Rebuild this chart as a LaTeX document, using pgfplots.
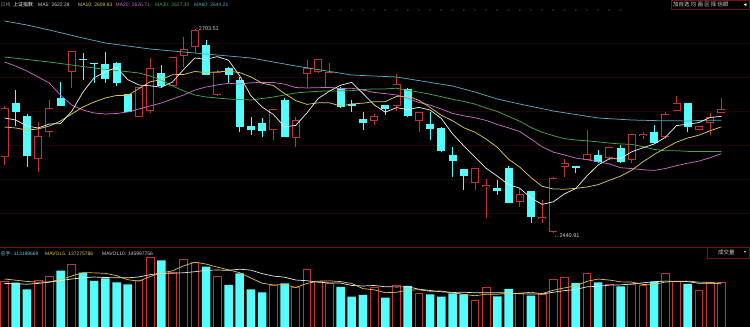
\documentclass[border=0pt]{standalone}
\usepackage{pgfplots}
\pgfplotsset{compat=1.18}
\usepackage{pgfplotstable}
\usepackage{fontspec}
\setmainfont{Liberation Sans}
\newfontfamily\cjk{Noto Sans CJK SC}
\definecolor{cy}{HTML}{54FCFC}
\definecolor{rd}{HTML}{C03434}
\definecolor{maw}{HTML}{E6E6E6}
\definecolor{may}{HTML}{D8C45A}
\definecolor{mam}{HTML}{C868C8}
\definecolor{mag}{HTML}{44A844}
\definecolor{mat}{HTML}{56A6BE}
\definecolor{gridc}{HTML}{240606}
\definecolor{sepc}{HTML}{6A1414}
\definecolor{dotc}{HTML}{9ADCCC}
\definecolor{volc}{HTML}{6CC0E4}
\definecolor{lblc}{HTML}{D0D0D0}

\pgfplotstableread{
x o h l c
0 2538.73 2604.39 2528.44 2601.81
3 2536.16 2583.79 2519.42 2565.77
4 2570.91 2612.11 2564.48 2601.81
6 2648.15 2675.19 2627.56 2675.19
12 2590.22 2628.85 2590.22 2628.85
13 2597.95 2666.17 2595.38 2653.30
15 2630.13 2667.46 2630.13 2667.46
16 2668.75 2693.21 2654.59 2677.76
17 2680.34 2703.51 2672.61 2702.22
19 2618.55 2650.73 2617.26 2648.15
24 2573.49 2600.52 2560.62 2600.52
26 2563.19 2590.22 2551.61 2586.36
27 2645.58 2663.60 2627.56 2653.30
28 2648.15 2664.89 2646.87 2664.89
29 2627.56 2659.74 2627.56 2648.15
33 2585.07 2594.09 2579.93 2591.51
35 2604.39 2645.58 2597.95 2632.71
37 2585.07 2596.66 2570.91 2596.66
42 2505.27 2524.57 2496.26 2524.57
43 2500.12 2510.41 2460.21 2502.69
46 2480.81 2498.83 2474.37 2491.11
48 2458.93 2483.38 2453.78 2461.50
49 2442.19 2512.99 2440.91 2511.70
50 2525.86 2536.16 2512.99 2531.01
52 2534.87 2573.49 2534.87 2542.60
54 2537.45 2551.61 2534.87 2551.61
56 2534.87 2568.34 2531.01 2568.34
57 2565.77 2570.91 2561.89 2568.34
59 2564.48 2596.66 2563.19 2594.09
60 2597.95 2617.26 2597.95 2608.25
62 2573.49 2578.64 2573.49 2578.64
63 2582.50 2595.38 2567.05 2590.22
64 2595.38 2614.69 2595.38 2600.52
}\redc

\pgfplotstableread{
x o h l c
1 2608.25 2624.98 2578.64 2596.66
2 2591.51 2594.09 2525.86 2540.02
5 2614.69 2635.28 2604.39 2604.39
7 2664.89 2672.61 2637.86 2663.60
8 2659.74 2659.74 2633.99 2658.45
9 2658.45 2673.90 2633.99 2639.14
10 2659.74 2661.03 2630.13 2633.99
11 2619.85 2619.85 2596.66 2596.66
14 2646.87 2657.16 2627.56 2630.13
18 2682.91 2689.35 2644.29 2644.29
20 2653.30 2654.59 2633.99 2644.29
21 2637.86 2641.72 2570.91 2577.35
22 2578.64 2590.22 2567.05 2573.49
23 2582.50 2588.94 2564.48 2572.20
25 2612.11 2614.69 2564.48 2564.48
30 2627.56 2628.85 2601.81 2603.10
31 2606.96 2612.11 2596.66 2604.39
32 2587.65 2596.66 2573.49 2582.50
34 2605.67 2605.67 2592.80 2600.52
36 2626.27 2627.56 2590.22 2591.51
38 2581.21 2596.66 2560.62 2574.77
39 2576.06 2577.35 2545.17 2546.46
40 2541.31 2551.61 2512.99 2533.58
41 2523.29 2523.29 2496.26 2514.27
44 2498.83 2509.13 2489.82 2494.97
45 2524.57 2527.15 2479.52 2479.52
47 2494.97 2494.97 2453.78 2461.50
51 2527.15 2527.15 2518.14 2524.57
53 2541.31 2547.75 2531.01 2532.30
55 2550.32 2554.18 2531.01 2532.30
58 2570.91 2579.93 2555.47 2556.76
61 2608.25 2608.25 2570.91 2577.35
}\cyanc

\pgfplotstableread{
x m5 m10 m20
0 2588.94 2577.35 2661.03
1 2586.36 2576.07 2655.88
2 2578.64 2573.49 2649.44
3 2576.07 2574.78 2641.72
4 2581.21 2578.64 2633.99
5 2581.73 2585.08 2618.55
6 2597.43 2594.09 2605.67
7 2622.15 2603.10 2599.24
8 2640.69 2609.54 2595.38
9 2648.15 2614.68 2594.09
10 2654.08 2617.90 2594.73
11 2638.37 2617.90 2596.66
12 2631.42 2626.79 2600.52
13 2630.39 2635.54 2604.39
14 2628.59 2638.37 2608.25
15 2635.28 2644.68 2613.40
16 2651.50 2644.94 2618.55
17 2666.18 2648.80 2624.98
18 2664.37 2647.38 2628.84
19 2667.98 2648.28 2631.48
20 2663.34 2649.31 2633.61
21 2643.26 2647.38 2632.64
22 2617.52 2641.85 2634.32
23 2603.10 2633.74 2634.64
24 2593.57 2630.78 2634.57
25 2577.61 2620.48 2632.58
26 2579.41 2611.34 2628.14
27 2595.38 2606.45 2627.62
28 2613.91 2608.51 2627.94
29 2623.44 2608.51 2628.39
30 2631.16 2604.39 2626.85
31 2634.77 2607.09 2627.24
32 2620.61 2607.99 2624.92
33 2605.93 2609.92 2621.83
34 2596.40 2609.92 2620.35
35 2602.33 2616.74 2618.61
36 2599.75 2617.26 2614.30
37 2602.58 2611.60 2609.02
38 2599.24 2602.58 2605.54
39 2588.42 2592.41 2600.46
40 2568.60 2585.46 2594.92
41 2553.15 2576.45 2591.77
42 2538.73 2570.66 2589.32
43 2524.32 2561.78 2585.85
44 2514.02 2551.22 2580.57
45 2503.20 2535.90 2576.32
46 2498.57 2525.86 2571.56
47 2485.95 2512.34 2561.97
48 2477.72 2501.02 2551.80
49 2481.06 2497.54 2544.98
50 2491.36 2497.28 2541.37
51 2498.06 2498.31 2537.38
52 2514.28 2500.11 2535.39
53 2528.44 2503.08 2532.43
54 2536.42 2508.74 2529.98
55 2536.67 2514.02 2524.96
56 2545.43 2521.74 2523.80
57 2550.58 2532.43 2522.39
58 2555.47 2541.95 2521.48
59 2563.96 2550.19 2523.87
60 2579.15 2557.91 2527.60
61 2580.96 2563.19 2530.75
62 2583.02 2566.80 2533.46
63 2589.71 2572.59 2537.83
64 2591.00 2577.48 2543.11
}\matab

\pgfplotstableread{
x y
0 2667.46
2 2664.25
4 2661.03
6 2657.17
8 2653.30
10 2650.09
12 2646.87
13 2643.01
14 2637.86
15 2630.13
16 2623.70
17 2618.55
18 2615.97
20 2613.40
22 2612.11
24 2615.97
26 2621.12
27 2622.41
28 2623.31
29 2623.82
30 2623.86
31 2624.12
32 2625.54
33 2626.40
34 2626.36
35 2627.30
36 2624.51
37 2622.28
38 2619.49
39 2616.40
40 2613.05
41 2610.31
42 2606.83
43 2601.81
44 2597.31
45 2591.04
46 2584.82
47 2576.80
48 2570.70
49 2566.15
50 2562.38
51 2560.62
52 2559.59
53 2558.26
54 2556.63
55 2555.56
56 2554.95
57 2552.12
58 2548.52
59 2546.72
60 2546.88
61 2545.98
62 2545.85
63 2545.81
64 2545.81
}\mathirty

\pgfplotstableread{
x y
0 2713.81
2 2708.66
4 2702.22
7 2691.92
9 2685.49
13 2677.76
17 2672.61
22 2666.18
26 2655.88
31 2644.29
35 2641.72
40 2630.13
42 2622.41
44 2613.40
46 2606.96
49 2597.95
53 2588.94
56 2586.36
59 2585.27
60 2585.37
61 2585.08
62 2585.72
63 2586.11
64 2586.11
}\masixty

\pgfplotstableread{
x v
0 115
3 117.5
4 127.5
6 157.5
12 117.5
13 173.3
15 137.5
16 170
17 161.8
19 127.5
24 105
26 99.3
27 144.3
28 115
29 109.3
33 100
35 105
37 84.3
42 67.5
43 99.3
46 84.3
48 82.5
49 119.3
50 124.3
52 134.3
54 106.8
56 106.8
57 105
59 134.3
60 113.3
62 92.5
63 111.8
64 111.8
}\redv

\pgfplotstableread{
x v
1 110.8
2 94.3
5 140.8
7 135.8
8 115
9 121.8
10 111.8
11 106.8
14 166.8
18 150.8
20 105
21 134.3
22 94.3
23 86.8
25 109.3
30 100
31 75.8
32 80
34 73.3
36 102.5
38 81.8
39 75.8
40 84.3
41 81.8
44 76.8
45 95
47 78.3
51 110
53 111.8
55 101.8
58 113.3
61 107.5
}\cyv

\pgfplotstableread{
x m5 m10
0 120 109
1 117 108
2 114 107
3 112 109
4 113.0 112
5 118.2 116
6 127.5 120
7 135.8 123
8 135.3 125
9 134.2 123.6
10 128.4 123.3
11 118.2 122.9
12 114.6 125.2
13 126.2 130.8
14 135.2 134.7
15 140.4 134.4
16 153.0 135.6
17 161.9 138.2
18 157.4 141.8
19 149.5 142.4
20 143.0 141.7
21 135.9 144.5
22 122.4 142.1
23 109.6 133.5
24 105.1 127.3
25 105.9 124.5
26 98.9 117.4
27 108.9 115.7
28 114.6 112.1
29 115.4 110.3
30 113.6 109.8
31 108.9 103.9
32 96.0 102.5
33 93.0 103.8
34 85.8 100.6
35 86.8 100.2
36 92.2 100.5
37 93.0 94.5
38 89.4 91.2
39 89.9 87.9
40 85.7 86.3
41 81.6 86.9
42 78.2 85.6
43 81.7 85.6
44 81.9 85.9
45 84.1 84.9
46 84.6 83.1
47 86.7 82.5
48 83.4 82.6
49 91.9 86.9
50 97.7 90.9
51 102.9 93.7
52 114.1 100.4
53 119.9 101.7
54 117.4 104.7
55 112.9 105.3
56 112.3 107.6
57 106.4 110.3
58 106.7 113.3
59 112.2 114.8
60 114.5 113.7
61 114.7 113.5
62 112.2 109.3
63 111.9 109.3
64 107.4 109.8
}\mavol

\begin{document}
\begin{tikzpicture}
\useasboundingbox (0,0) rectangle (750bp,327bp);
\fill[black] (0,0) rectangle (750bp,327bp);

% ---------- price panel ----------
\begin{axis}[at={(0,80bp)}, anchor=south west, scale only axis,
  width=750bp, height=247bp,
  xmin=-0.4018, xmax=66.5625, ymin=2422.88, ymax=2740.84,
  axis line style={draw=none}, xtick=\empty, ytick=\empty, clip=false]
% faint grid
\addplot[gridc, line width=0.6bp] coordinates {(-0.4018,2685.49) (66.5625,2685.49)};
\addplot[gridc, line width=0.6bp] coordinates {(-0.4018,2641.72) (66.5625,2641.72)};
\addplot[gridc, line width=0.6bp] coordinates {(-0.4018,2597.95) (66.5625,2597.95)};
\addplot[gridc, line width=0.6bp] coordinates {(-0.4018,2554.18) (66.5625,2554.18)};
\addplot[gridc, line width=0.6bp] coordinates {(-0.4018,2510.41) (66.5625,2510.41)};
\addplot[gridc, line width=0.6bp] coordinates {(-0.4018,2466.65) (66.5625,2466.65)};
% wicks
\addplot[draw=rd, line width=0.8bp, quiver={u=0, v=\thisrow{h}-\thisrow{l}}] table[x=x, y=l] {\redc};
\addplot[draw=cy, line width=0.8bp, quiver={u=0, v=\thisrow{h}-\thisrow{l}}] table[x=x, y=l] {\cyanc};
% bodies
\addplot[draw=cy, line width=8bp, quiver={u=0, v=\thisrow{c}-\thisrow{o}}] table[x=x, y=o] {\cyanc};
\addplot[draw=rd, line width=8bp, quiver={u=0, v=\thisrow{c}-\thisrow{o}}] table[x=x, y=o] {\redc};
\addplot[draw=black, line width=6.4bp, quiver={u=0, v=\thisrow{c}-\thisrow{o},
  every arrow/.append style={shorten <=0.8bp, shorten >=0.8bp}}] table[x=x, y=o] {\redc};
% moving averages
\addplot[mat, line width=0.75bp] table[x=x, y=y] {\masixty};
\addplot[mag, line width=0.75bp] table[x=x, y=y] {\mathirty};
\addplot[mam, line width=0.75bp] table[x=x, y=m20] {\matab};
\addplot[may, line width=0.75bp] table[x=x, y=m10] {\matab};
\addplot[maw, line width=0.75bp] table[x=x, y=m5] {\matab};
% marker dots
\addplot[only marks, mark=*, mark size=0.9bp, mark options={fill=dotc, draw=none}] coordinates {
(27,2727.97) (28,2727.97) (29,2727.97) (30,2727.97) (31,2727.97) (32,2727.97) (33,2727.97)
(34,2727.97) (35,2727.97) (36,2727.97) (37,2727.97) (38,2727.97) (39,2727.97) (40,2727.97)
(41,2727.97) (42,2727.97) (43,2727.97) (44,2727.97) (45,2727.97) (46,2727.97) (47,2727.97)
(48,2727.97) (49,2727.97) (50,2727.97) (51,2727.97) (52,2727.97) (53,2727.97) (54,2727.97)
(55,2727.97)};
\node[anchor=west, inner sep=0pt, font=\fontsize{5.5}{6}\selectfont, text=lblc] at (axis cs:17.1,2703.51) {-\,2703.51};
\node[anchor=west, inner sep=0pt, font=\fontsize{5.5}{6}\selectfont, text=lblc, yshift=-3bp] at (axis cs:49.05,2440.91) {←2440.91};
\end{axis}

% ---------- volume panel ----------
\begin{axis}[at={(0,0)}, anchor=south west, scale only axis,
  width=750bp, height=80bp,
  xmin=-0.4018, xmax=66.5625, ymin=0, ymax=200,
  axis line style={draw=none}, xtick=\empty, ytick=\empty, clip=false]
\addplot[ybar, bar width=8.5bp, bar shift=0pt, fill=cy, draw=none] table[x=x, y=v] {\cyv};
\addplot[ybar, bar width=7.7bp, bar shift=0pt, fill=black, draw=rd, line width=0.8bp] table[x=x, y=v] {\redv};
\addplot[maw, line width=0.7bp] table[x=x, y=m10] {\mavol};
\addplot[may, line width=0.7bp] table[x=x, y=m5] {\mavol};
\end{axis}

% ---------- frame and texts ----------
\draw[sepc, line width=0.7bp] (0,80bp) -- (707bp,80bp);
\draw[sepc, line width=0.6bp] (707bp,69bp) rectangle (749.6bp,80bp);
\node[anchor=west, inner sep=0pt, font=\cjk\fontsize{5.5}{6}\selectfont, text=lblc] at (718bp,74.5bp) {成交量};
\node[anchor=center, inner sep=0pt, font=\fontsize{3.5}{4}\selectfont, text=lblc] at (745bp,74.5bp) {▼};

\draw[sepc, line width=0.6bp] (671bp,317.5bp) rectangle (749.6bp,327bp);
\node[anchor=west, inner sep=0pt, font=\cjk\fontsize{5.5}{6}\selectfont, text=lblc] at (673bp,322.3bp) {加自选\ 均\ 画\ 区\ 择\ 信眼};
\node[anchor=center, inner sep=0pt, font=\fontsize{5}{6}\selectfont, text=white] at (745bp,322.3bp) {◄};

\begin{scope}[every node/.style={anchor=west, inner sep=0pt, font=\fontsize{5}{6}\selectfont}]
\node[text=gray] at (0.5bp,322.5bp) {\cjk 日线};
\node[text=white] at (13bp,322.5bp) {\cjk 上证指数};
\node[text=lblc] at (38bp,322.5bp) {MA5: 2622.28};
\node[text=may] at (78bp,322.5bp) {MA10: 2609.83};
\node[text=mam] at (115.5bp,322.5bp) {MA20: 2626.71};
\node[text=mag] at (155bp,322.5bp) {MA30: 2627.30};
\node[text=mat] at (194bp,322.5bp) {MA60: 2644.21};
\node[text=volc] at (0.5bp,73bp) {{\cjk 总手}: 113189669};
\node[text=may] at (45bp,73bp) {MAVOL5: 137275786};
\node[text=lblc] at (102bp,73bp) {MAVOL10: 145997756};
\end{scope}
\end{tikzpicture}
\end{document}
